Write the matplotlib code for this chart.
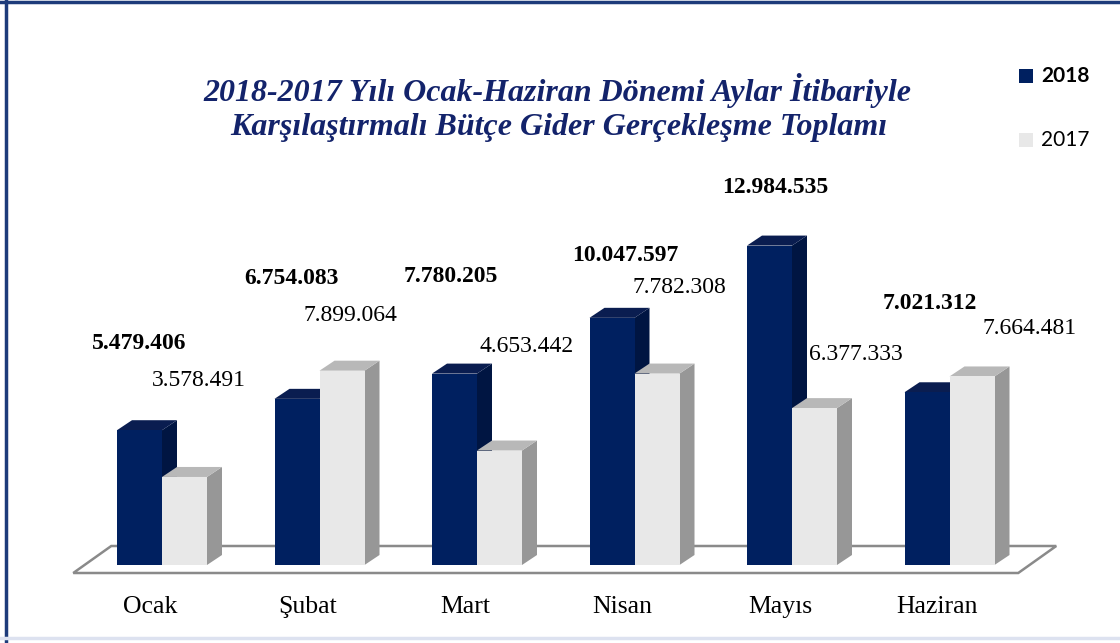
import matplotlib.pyplot as plt
from matplotlib.patches import Polygon
from matplotlib.lines import Line2D

months = ['Ocak', 'Şubat', 'Mart', 'Nisan', 'Mayıs', 'Haziran']
vals_2018 = [5479406, 6754083, 7780205, 10047597, 12984535, 7021312]
vals_2017 = [3578491, 7899064, 4653442, 7782308, 6377333, 7664481]
labels_2018 = ['5.479.406', '6.754.083', '7.780.205', '10.047.597', '12.984.535', '7.021.312']
labels_2017 = ['3.578.491', '7.899.064', '4.653.442', '7.782.308', '6.377.333', '7.664.481']

# label offsets from the bar top (pixels: right, up) - hand placed in the original
off_2018 = [(0, 87), (-6, 120), (-4, 97), (13, 62), (6, 58), (3, 89)]
off_2017 = [(14, 96), (8, 55), (27, 104), (22, 86), (41, 54), (58, 48)]

W, H = 1120, 643
fig = plt.figure(figsize=(W / 100, H / 100), dpi=100)

# axes placed so one category = 157.5 px, baseline at y=565 px
cat_px = 157.5
ymax = 16e6
ax_left = 162 - cat_px * 0.5
ax_w = cat_px * 6
ax_h = 393.6
ax = fig.add_axes([ax_left / W, (H - 565) / H, ax_w / W, ax_h / H])
ax.set_xlim(-0.5, 5.5)
ax.set_ylim(0, ymax)
ax.axis('off')

px_x = 6 / ax_w
px_y = ymax / ax_h

navy = ['#002060', '#001542', '#0a1d50']   # front, side, top
grey = ['#e8e8e8', '#979797', '#b8b8b8']
bw = 45 * px_x
ddx, ddy = 15 * px_x, 10 * px_y

# floor
fx0, fx1 = -0.5 - 10 * px_x, 5.5 - 10 * px_x
fy = -8 * px_y
bx, by = 38 * px_x, 27 * px_y
floor = Polygon([(fx0, fy), (fx1, fy), (fx1 + bx, fy + by), (fx0 + bx, fy + by)],
                closed=True, facecolor='white', edgecolor='#8a8a8a', lw=1.8,
                zorder=1, clip_on=False)
ax.add_patch(floor)


def bar3d(x0, v, cols, z):
    x1 = x0 + bw
    side = [(x1, 0), (x1 + ddx, ddy), (x1 + ddx, v + ddy), (x1, v)]
    top = [(x0, v), (x0 + ddx, v + ddy), (x1 + ddx, v + ddy), (x1, v)]
    ax.add_patch(Polygon(side, closed=True, facecolor=cols[1], edgecolor='none',
                         zorder=z, clip_on=False))
    ax.add_patch(Polygon(top, closed=True, facecolor=cols[2], edgecolor='none',
                         zorder=z, clip_on=False))
    ax.bar(x0, v, width=bw, align='edge', color=cols[0], zorder=z + 0.5)


for i in range(len(months)):
    bar3d(i - bw, vals_2018[i], navy, 2 + i * 2)
    bar3d(i, vals_2017[i], grey, 3 + i * 2)

    ox, oy = off_2018[i]
    ax.annotate(labels_2018[i], xy=(i - bw / 2, vals_2018[i]),
                xytext=(ox * 0.72, oy * 0.72), textcoords='offset points',
                ha='center', va='center', fontsize=17, fontweight='bold',
                family='Liberation Serif', color='black', zorder=30)
    ox, oy = off_2017[i]
    ax.annotate(labels_2017[i], xy=(i + bw / 2, vals_2017[i]),
                xytext=(ox * 0.72, oy * 0.72), textcoords='offset points',
                ha='center', va='center', fontsize=17,
                family='Liberation Serif', color='black', zorder=30)

    ax.annotate(months[i], xy=(i, 0), xytext=(-12 * 0.72, -42 * 0.72),
                textcoords='offset points', ha='center', va='center',
                fontsize=18.5, family='Liberation Serif', color='black')

# title
tcol = '#13236b'
fig.text(557 / W, 1 - 90 / H, '2018-2017 Yılı Ocak-Haziran Dönemi Aylar İtibariyle',
         ha='center', va='center', fontsize=23, fontweight='bold', style='italic',
         family='Liberation Serif', color=tcol)
fig.text(559 / W, 1 - 127 / H, 'Karşılaştırmalı Bütçe Gider Gerçekleşme Toplamı',
         ha='center', va='center', fontsize=23, fontweight='bold', style='italic',
         family='Liberation Serif', color=tcol)

# legend
for yy, col, txt, wt in [(76, navy[0], '2018', 'bold'), (140, grey[0], '2017', 'normal')]:
    fig.patches.append(plt.Rectangle((1019 / W, 1 - (yy + 7) / H), 14 / W, 14 / H,
                                     transform=fig.transFigure, facecolor=col,
                                     edgecolor='none'))
    fig.text(1041 / W, 1 - yy / H, txt, ha='left', va='center', fontsize=15,
             fontweight=wt, family='Lato', color='black')

# chart border
fig.add_artist(Line2D([6 / W, 6 / W], [0, 1], color='#1d3b7a', lw=2.5))
fig.add_artist(Line2D([0, 1], [1 - 1.5 / H, 1 - 1.5 / H], color='#1d3b7a', lw=2.5))
fig.add_artist(Line2D([0, 1], [5 / H, 5 / H], color='#dde2f0', lw=2.5))

fig.savefig('out.png', dpi=100)
